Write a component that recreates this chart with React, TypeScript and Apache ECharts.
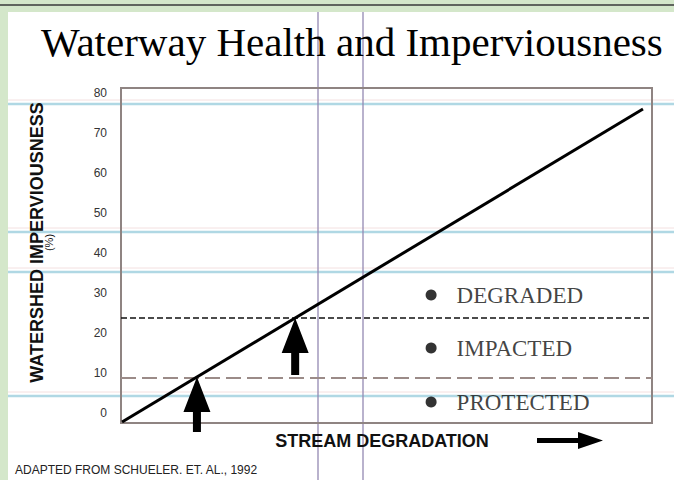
import React, { useEffect, useRef } from "react";
import * as echarts from "echarts";

const TITLE = "Waterway Health and Imperviousness";
const Y_NAME = "WATERSHED IMPERVIOUSNESS";
const Y_UNIT = "(%)";
const X_NAME = "STREAM DEGRADATION";
const SOURCE = "ADAPTED FROM SCHUELER. ET. AL., 1992";

const yTicks = [0, 10, 20, 30, 40, 50, 60, 70, 80];
const lineX = [0.2, 98.3];
const lineY = [-1, 77.25];
const thresholds = [25, 10];
const zoneNames = ["DEGRADED", "IMPACTED", "PROTECTED"];
const zoneX = [58.4, 58.4, 58.4];
const zoneY = [30.75, 17.5, 4];
const arrowX = [14.3, 32.8];
const arrowTip = [10.25, 25];
const arrowBase = [-3.5, 10.75];

const blueLinesY = [104, 232, 272, 396];
const purpleLinesX = [318, 363];

export default function App() {
  const ref = useRef<HTMLDivElement>(null);
  useEffect(() => {
    if (!ref.current) return;
    const chart = echarts.init(ref.current, undefined, { renderer: "svg" });
    const graphics: any[] = [
      { type: "rect", z: -20, shape: { x: 8, y: 12, width: 700, height: 500 }, style: { fill: "#ffffff" }, silent: true },
      { type: "line", z: -19, shape: { x1: 0, y1: 5, x2: 674, y2: 5 }, style: { stroke: "#3a3a3a", lineWidth: 1.5 }, silent: true },
    ];
    blueLinesY.forEach((y) => {
      graphics.push({ type: "line", z: -18, shape: { x1: 8, y1: y - 4, x2: 674, y2: y - 4 }, style: { stroke: "#f3e0e0", lineWidth: 1 }, silent: true });
      graphics.push({ type: "line", z: -18, shape: { x1: 8, y1: y, x2: 674, y2: y }, style: { stroke: "#b0d8e4", lineWidth: 2.5 }, silent: true });
    });
    purpleLinesX.forEach((x) => {
      graphics.push({ type: "line", z: -17, shape: { x1: x, y1: 12, x2: x, y2: 480 }, style: { stroke: "#9489b2", lineWidth: 1.3 }, silent: true });
    });
    // decorative arrow next to x-axis name
    graphics.push({
      type: "polygon",
      z: 10,
      shape: { points: [[537, 438], [578, 438], [578, 432], [603, 440.5], [578, 449], [578, 443], [537, 443]] },
      style: { fill: "#000" },
      silent: true,
    });

    const option: any = {
      animation: false,
      backgroundColor: "#d4e7ca",
      title: [
        {
          text: TITLE,
          left: 36,
          top: 16,
          textStyle: { fontFamily: "Liberation Serif", fontSize: 41, fontWeight: "normal", color: "#000" },
        },
        {
          text: SOURCE,
          left: 10,
          top: 459,
          textStyle: { fontFamily: "Liberation Sans", fontSize: 12, fontWeight: "normal", color: "#222" },
        },
      ],
      graphic: graphics,
      grid: {
        left: 121,
        right: 22,
        top: 88,
        bottom: 57,
        show: true,
        borderColor: "#8f8482",
        borderWidth: 2,
        backgroundColor: "transparent",
      },
      xAxis: {
        type: "value",
        min: 0,
        max: 100,
        axisLine: { show: false },
        axisTick: { show: false },
        axisLabel: { show: false },
        splitLine: { show: false },
        name: X_NAME,
        nameLocation: "middle",
        nameGap: 9,
        nameTextStyle: { fontFamily: "Liberation Sans", fontSize: 18, fontWeight: "bold", color: "#111", padding: [0, 9, 0, 0] },
      },
      yAxis: {
        type: "value",
        min: -1.25,
        max: 82.5,
        axisLine: { show: false },
        axisTick: { show: false },
        splitLine: { show: false },
        axisLabel: {
          customValues: yTicks,
          margin: 14,
          fontFamily: "Liberation Sans",
          fontSize: 12,
          color: "#333",
          verticalAlign: "bottom",
          lineHeight: 10,
        },
        name: `{a|${Y_NAME}}\n{b|${Y_UNIT}}`,
        nameLocation: "middle",
        nameRotate: 90,
        nameGap: 68,
        nameTextStyle: {
          padding: [0, 0, 0, 26],
          rich: {
            a: { fontFamily: "Liberation Sans", fontSize: 18, fontWeight: "bold", color: "#111", lineHeight: 14 },
            b: { fontFamily: "Liberation Sans", fontSize: 11, color: "#111", lineHeight: 9 },
          },
        },
      },
      series: [
        {
          type: "line",
          data: lineX.map((x, i) => [x, lineY[i]]),
          showSymbol: false,
          lineStyle: { color: "#000", width: 3 },
          z: 5,
          markLine: {
            silent: true,
            symbol: "none",
            label: { show: false },
            data: [
              { yAxis: thresholds[0], lineStyle: { color: "#111", width: 1.5, type: [6, 3] } },
              { yAxis: thresholds[1], lineStyle: { color: "#9b8b88", width: 2.2, type: [15, 6] } },
            ],
          },
        },
        {
          type: "custom",
          clip: false,
          z: 6,
          data: arrowX.map((x, i) => [x, arrowTip[i], arrowBase[i]]),
          renderItem: (params: any, api: any) => {
            const top = api.coord([api.value(0), api.value(1)]);
            const bot = api.coord([api.value(0), api.value(2)]);
            const x = top[0];
            const ty = top[1];
            const by = bot[1];
            const hw = 13.5, hh = 35, sw = 4;
            return {
              type: "polygon",
              shape: {
                points: [[x, ty], [x + hw, ty + hh], [x + sw, ty + hh], [x + sw, by], [x - sw, by], [x - sw, ty + hh], [x - hw, ty + hh]],
              },
              style: { fill: "#000" },
            };
          },
        },
        {
          type: "scatter",
          data: zoneNames.map((n, i) => ({ name: n, value: [zoneX[i], zoneY[i]] })),
          symbolSize: 11,
          itemStyle: { color: "#000" },
          z: 6,
          label: {
            show: true,
            position: "right",
            distance: 20,
            formatter: (p: any) => p.name,
            fontFamily: "Liberation Serif",
            fontSize: 23,
            color: "#111",
          },
        },
      ],
    };
    chart.setOption(option);
    return () => chart.dispose();
  }, []);
  return <div ref={ref} style={{ position: "fixed", left: 0, top: 0, width: 674, height: 480 }} />;
}
